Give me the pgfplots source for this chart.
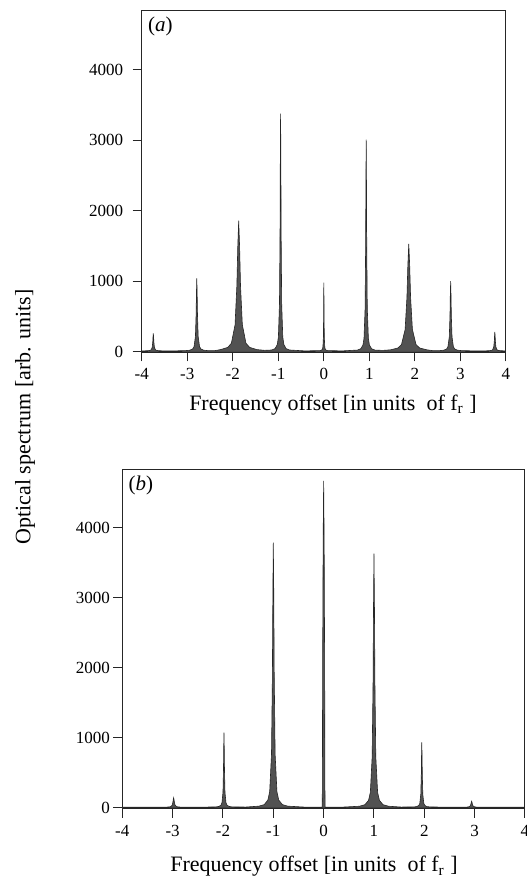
\documentclass[border=0pt]{standalone}
\usepackage{fontspec}
\setmainfont{Liberation Serif}
\usepackage{pgfplots}
\pgfplotsset{compat=1.18}
\begin{document}
\begin{tikzpicture}[x=1pt,y=1pt]
\useasboundingbox (0,0) rectangle (263,-442);
\pgfplotsset{
  spec/.style={
    scale only axis,
    xmin=-4, xmax=4, ymin=-10,
    xtick={-4,-3,-2,-1,0,1,2,3,4},
    ytick={0,1000,2000,3000,4000},
    xtick pos=left, ytick pos=left,
    tick align=outside,
    major tick length=4.5pt,
    axis line style={draw=black!85, line width=0.5pt},
    every tick/.style={draw=black!85, line width=0.5pt},
    /pgf/number format/assume math mode=true,
    /pgf/number format/1000 sep={},
    tick label style={font=\fontsize{8.5}{10}\selectfont},
    label style={font=\fontsize{11}{13}\selectfont},
    scaled y ticks=false,
  },
  peak/.style={draw=black!85, line width=0.3pt, fill=black!68},
}
% ---------------- (a) ----------------
\begin{axis}[spec,
  at={(70.85pt,-5pt)}, anchor=north west,
  width=182.15pt, height=171.15pt,
  ymax=4850,
  xticklabel style={anchor=center, yshift=-6.5pt},
  yticklabel style={anchor=east, xshift=-1.2pt},
  xlabel={Frequency offset [in units\ \ of f$_{\mathrm{r}}$ ]},
  xlabel style={at={(axis description cs:0.525,0)}, anchor=center, yshift=-26.4pt},
]
\addplot[peak] coordinates {
(-4,10)
(-3.937,11) (-3.865,12.5) (-3.817,17) (-3.793,25) (-3.769,60) (-3.757,135) (-3.751,210) (-3.745,260)
(-3.739,210) (-3.733,135) (-3.721,60) (-3.697,25) (-3.673,17) (-3.625,12.5) (-3.553,11)
(-3.29,10)
(-3.03,14) (-2.94,20) (-2.88,38) (-2.85,71) (-2.82,216) (-2.805,525) (-2.7975,834) (-2.79,1040)
(-2.7825,834) (-2.775,525) (-2.76,216) (-2.73,71) (-2.70,38) (-2.64,20) (-2.55,14)
(-2.40,13)
(-2.27,28) (-2.11,60) (-2.03,119) (-1.95,380) (-1.91,935) (-1.89,1490) (-1.87,1860)
(-1.85,1490) (-1.83,935) (-1.79,380) (-1.71,119) (-1.63,60) (-1.47,28)
(-1.30,18)
(-1.142,23) (-1.07,43) (-1.022,101) (-0.998,208) (-0.974,684) (-0.962,1695) (-0.956,2706) (-0.95,3380)
(-0.944,2706) (-0.938,1695) (-0.926,684) (-0.902,208) (-0.878,101) (-0.83,43) (-0.758,23)
(-0.42,10)
(-0.08,14) (-0.05,20) (-0.03,36) (-0.02,67) (-0.01,204) (-0.005,495) (-0.0025,786) (0,980)
(0.0025,786) (0.005,495) (0.01,204) (0.02,67) (0.03,36) (0.05,20) (0.08,14)
(0.41,10)
(0.738,22) (0.81,40) (0.858,91) (0.882,186) (0.906,610) (0.918,1510) (0.924,2410) (0.93,3010)
(0.936,2410) (0.942,1510) (0.954,610) (0.978,186) (1.002,91) (1.05,40) (1.122,22)
(1.29,17)
(1.465,25) (1.625,51) (1.705,99) (1.785,314) (1.825,770) (1.845,1226) (1.865,1530)
(1.885,1226) (1.905,770) (1.945,314) (2.025,99) (2.105,51) (2.265,25)
(2.40,13)
(2.545,14) (2.635,20) (2.695,37) (2.725,68) (2.755,208) (2.77,505) (2.7775,802) (2.785,1000)
(2.7925,802) (2.80,505) (2.815,208) (2.845,68) (2.875,37) (2.935,20) (3.025,14)
(3.29,10)
(3.563,11) (3.635,13) (3.683,17) (3.707,26) (3.731,64) (3.743,145) (3.749,226) (3.755,280)
(3.761,226) (3.767,145) (3.779,64) (3.803,26) (3.827,17) (3.875,13) (3.947,11)
(4,10)
} \closedcycle;
\node[anchor=north west, inner sep=0pt, font=\fontsize{10.5}{12}\selectfont]
  at (rel axis cs:0,1) [xshift=3pt, yshift=-3.5pt] {(\textit{a})};
\end{axis}
% ---------------- (b) ----------------
\begin{axis}[spec,
  at={(61.15pt,-234.5pt)}, anchor=north west,
  width=201.35pt, height=169.8pt,
  ymax=4840,
  xticklabel style={anchor=center, yshift=-6.5pt},
  yticklabel style={anchor=east, xshift=1.8pt},
  xlabel={Frequency offset [in units\ \ of f$_{\mathrm{r}}$ ]},
  xlabel style={at={(axis description cs:0.476,0)}, anchor=center, yshift=-29pt},
]
\addplot[peak] coordinates {
(-4,10)
(-3.13,11) (-3.07,14) (-3.04,18) (-3.01,37) (-2.995,78) (-2.9875,118) (-2.98,145)
(-2.9725,118) (-2.965,78) (-2.95,37) (-2.92,18) (-2.89,14) (-2.83,11)
(-2.48,10)
(-2.14,14) (-2.08,21) (-2.04,39) (-2.02,73) (-2.00,223) (-1.99,543) (-1.985,862) (-1.98,1075)
(-1.975,862) (-1.97,543) (-1.96,223) (-1.94,73) (-1.92,39) (-1.88,21) (-1.82,14)
(-1.55,12)
(-1.288,25) (-1.18,47) (-1.108,112) (-1.072,232) (-1.036,766) (-1.018,1900) (-1.009,3034) (-1.0,3790)
(-0.991,3034) (-0.982,1900) (-0.964,766) (-0.928,232) (-0.892,112) (-0.82,47) (-0.712,25)
(-0.37,11)
(-0.03,12) (-0.025,300) (-0.02,2000) (-0.01,3800) (0,4670)
(0.01,3800) (0.02,2000) (0.025,300) (0.03,12)
(0.37,11)
(0.712,24) (0.82,46) (0.892,108) (0.928,223) (0.964,734) (0.982,1820) (0.991,2906) (1.0,3630)
(1.009,2906) (1.018,1820) (1.036,734) (1.072,223) (1.108,108) (1.18,46) (1.288,24)
(1.54,12)
(1.79,14) (1.85,19) (1.89,35) (1.91,64) (1.93,195) (1.94,473) (1.945,750) (1.95,935)
(1.955,750) (1.96,473) (1.97,195) (1.99,64) (2.01,35) (2.05,19) (2.11,14)
(2.45,10)
(2.79,11) (2.85,12) (2.88,15) (2.91,27) (2.925,52) (2.9325,78) (2.94,95)
(2.9475,78) (2.955,52) (2.97,27) (3.0,15) (3.03,12) (3.09,11)
(4,10)
} \closedcycle;
\node[anchor=north west, inner sep=0pt, font=\fontsize{10.5}{12}\selectfont]
  at (rel axis cs:0,1) [xshift=3pt, yshift=-3.5pt] {(\textit{b})};
\end{axis}
\node[rotate=90, font=\fontsize{11}{13}\selectfont] at (12.5,-208.5)
  {Optical spectrum [arb. units]};
\end{tikzpicture}
\end{document}
